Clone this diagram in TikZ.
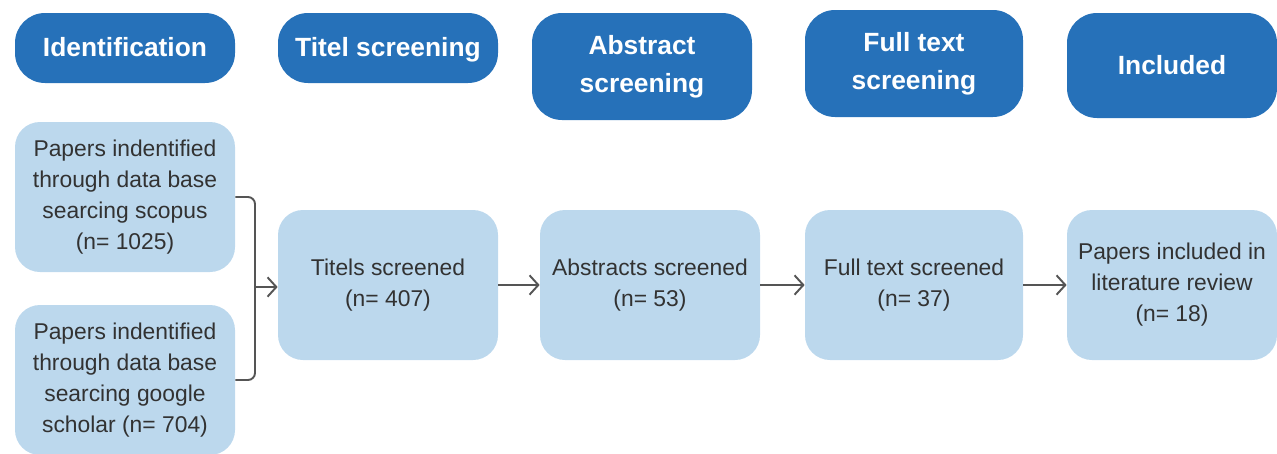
\documentclass[tikz,border=0pt]{standalone}
\usepackage{fontspec}
\setmainfont{Liberation Sans}
\usetikzlibrary{arrows.meta}
\definecolor{stepblue}{RGB}{38,113,185}
\definecolor{boxblue}{RGB}{188,216,237}
\definecolor{inktext}{RGB}{50,50,50}
\definecolor{linkgray}{RGB}{85,85,85}
\tikzset{
  phase/.style={fill=stepblue, rounded corners=0.6cm, align=center, text=white,
    font=\fontsize{15}{21.5}\selectfont\bfseries, inner sep=0pt},
  oneline/.style={text height=12.2pt, text depth=2pt},
  record/.style={fill=boxblue, rounded corners=0.5cm, align=center, text=inktext,
    font=\fontsize{13}{17.6}\selectfont, inner sep=0pt,
    minimum width=4.4cm, minimum height=3cm},
  link/.style={draw=linkgray, line width=1.1pt, -{Straight Barb[length=5pt,width=11pt]}}
}
\begin{document}
\begin{tikzpicture}
\useasboundingbox (0,0) rectangle (25.54,-9.06);
\node[phase, oneline, minimum width=4.4cm, minimum height=1.4cm] at (2.5,-0.96) (hident) {Identification};
\node[phase, oneline, minimum width=4.4cm, minimum height=1.4cm] at (7.76,-0.96) (htitel) {Titel screening};
\node[phase, minimum width=4.4cm, minimum height=2.14cm] at (12.84,-1.33) (habstract) {Abstract\\screening};
\node[phase, minimum width=4.36cm, minimum height=2.14cm] at (18.28,-1.27) (hfull) {Full text\\screening};
\node[phase, oneline, minimum width=4.2cm, minimum height=2.1cm] at (23.44,-1.31) (hincl) {Included};
\node[record] at (2.5,-3.94) (scopus) {Papers indentified\\through data base\\searcing scopus\\(n= 1025)};
\node[record] at (2.5,-7.6) (scholar) {Papers indentified\\through data base\\searcing google\\scholar (n= 704)};
\node[record] at (7.76,-5.7) (titels) {Titels screened\\(n= 407)};
\node[record] at (13.0,-5.7) (abstracts) {Abstracts screened\\(n= 53)};
\node[record, minimum width=4.36cm] at (18.28,-5.7) (fulltext) {Full text screened\\(n= 37)};
\node[record, minimum width=4.2cm] at (23.44,-5.7) (included) {Papers included in\\literature review\\(n= 18)};
\coordinate (brace) at (5.1,-5.74);
\draw[draw=linkgray, line width=1.1pt, rounded corners=4pt] (scopus.east) -| (brace);
\draw[draw=linkgray, line width=1.1pt, rounded corners=4pt] (scholar.east) -| (brace);
\draw[link] (brace) -- (brace -| titels.west);
\draw[link] (titels) -- (abstracts);
\draw[link] (abstracts) -- (fulltext);
\draw[link] (fulltext) -- (included);
\end{tikzpicture}
\end{document}
